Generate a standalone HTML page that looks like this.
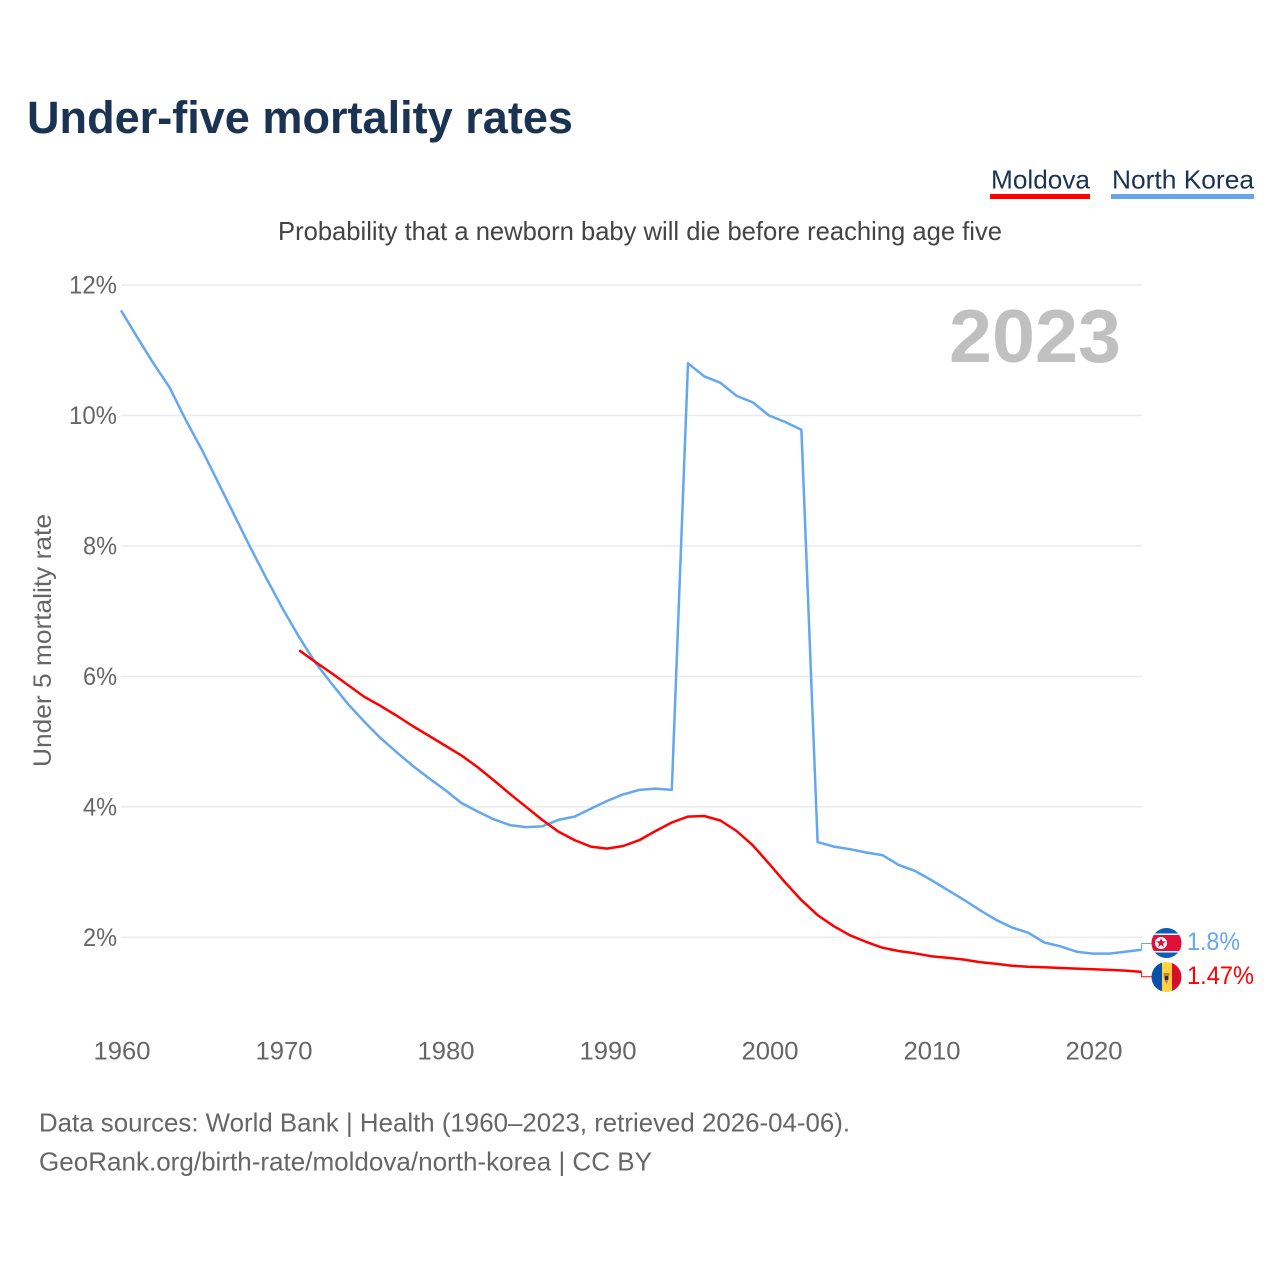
<!DOCTYPE html>
<html lang="en">
<head>
<meta charset="utf-8">
<title>Under-five mortality rates</title>
<style>
html,body{margin:0;padding:0;background:#fff}
svg{display:block}
text{font-family:"Liberation Sans",sans-serif}
</style>
</head>
<body>
<svg id="chart" xmlns="http://www.w3.org/2000/svg" width="1280" height="1280" viewBox="0 0 1280 1280">
  <rect x="0" y="0" width="1280" height="1280" fill="#fff"/>
  <text x="27" y="133" font-size="45" font-weight="700" fill="#1a3353" textLength="546" lengthAdjust="spacingAndGlyphs">Under-five mortality rates</text>

  <g>
    <text x="991" y="188.5" font-size="26" fill="#1a3353" textLength="99" lengthAdjust="spacingAndGlyphs">Moldova</text>
    <rect x="990" y="194" width="100" height="5" fill="#ff0000"/>
  </g>
  <g>
    <text x="1112" y="188.5" font-size="26" fill="#1a3353" textLength="142" lengthAdjust="spacingAndGlyphs">North Korea</text>
    <rect x="1111" y="194" width="143" height="5" fill="#63a8ee"/>
  </g>

  <text x="278" y="240" font-size="26" fill="#444" textLength="724" lengthAdjust="spacingAndGlyphs">Probability that a newborn baby will die before reaching age five</text>

  <g id="grid"></g>
  <g id="yticks"></g>
  <g id="xticks"></g>

  <text transform="translate(51,767) rotate(-90)" x="0" y="0" font-size="25" fill="#666" textLength="253" lengthAdjust="spacingAndGlyphs">Under 5 mortality rate</text>

  <text x="949" y="362" font-size="75" font-weight="700" fill="#c0c0c0" textLength="172" lengthAdjust="spacingAndGlyphs">2023</text>

  <g id="series"></g>

  <defs>
    <clipPath id="clip-kp"><circle cx="1166.5" cy="943" r="15"/></clipPath>
    <clipPath id="clip-md"><circle cx="1166.5" cy="977" r="15"/></clipPath>
  </defs>

  <g clip-path="url(#clip-kp)">
    <rect x="1151" y="928" width="31" height="30" fill="#0b5cb5"/>
    <rect x="1151" y="933.5" width="31" height="19" fill="#fff"/>
    <rect x="1151" y="935" width="31" height="16" fill="#e0103a"/>
    <circle cx="1161" cy="943" r="6" fill="#fff"/>
    <polygon points="1161,938 1162.3,941.3 1165.8,941.4 1163,943.7 1164,947.1 1161,945.1 1158,947.1 1159,943.7 1156.2,941.4 1159.7,941.3" fill="#e0103a"/>
  </g>
  <g clip-path="url(#clip-md)">
    <rect x="1151" y="962" width="11" height="30" fill="#0a50a8"/>
    <rect x="1162" y="962" width="10" height="30" fill="#ffd23f"/>
    <rect x="1172" y="962" width="10" height="30" fill="#d6102c"/>
    <polygon points="1163.5,973 1169.5,973 1169,979 1166.5,984 1164,979" fill="#c9803a"/>
    <rect x="1165" y="976" width="3" height="4" fill="#1a3353"/>
  </g>

  <text x="1187" y="950" font-size="25" fill="#63a8ee" textLength="53" lengthAdjust="spacingAndGlyphs">1.8%</text>
  <text x="1187" y="984" font-size="25" fill="#ff0000" textLength="67" lengthAdjust="spacingAndGlyphs">1.47%</text>

  <text x="39" y="1131.5" font-size="26" fill="#666" textLength="811" lengthAdjust="spacingAndGlyphs">Data sources: World Bank | Health (1960–2023, retrieved 2026-04-06).</text>
  <text x="39" y="1170.5" font-size="26" fill="#666" textLength="613" lengthAdjust="spacingAndGlyphs">GeoRank.org/birth-rate/moldova/north-korea | CC BY</text>
</svg>
<script>
const yTicks = [2, 4, 6, 8, 10, 12];
const xTicks = [1960, 1970, 1980, 1990, 2000, 2010, 2020];
const northKoreaStartYear = 1960;
const northKoreaValues = [11.61,11.2,10.8,10.43,9.93,9.47,8.97,8.47,7.97,7.49,7.03,6.6,6.21,5.89,5.58,5.31,5.06,4.84,4.63,4.44,4.26,4.06,3.93,3.81,3.72,3.69,3.7,3.8,3.85,3.97,4.09,4.19,4.26,4.28,4.26,10.8,10.6,10.5,10.3,10.2,10.0,9.9,9.78,3.46,3.39,3.35,3.3,3.26,3.11,3.02,2.88,2.73,2.58,2.42,2.27,2.15,2.07,1.92,1.86,1.78,1.75,1.75,1.78,1.81];
const moldovaStartYear = 1971;
const moldovaValues = [6.4,6.22,6.05,5.87,5.69,5.55,5.4,5.24,5.09,4.94,4.79,4.61,4.41,4.2,4.0,3.8,3.62,3.49,3.39,3.36,3.4,3.49,3.63,3.76,3.85,3.86,3.79,3.63,3.41,3.13,2.84,2.57,2.34,2.17,2.03,1.93,1.84,1.79,1.755,1.71,1.685,1.66,1.62,1.595,1.565,1.55,1.54,1.53,1.52,1.51,1.5,1.49,1.47];

const NS = 'http://www.w3.org/2000/svg';
const xScale = function (year) { return 121 + (year - 1960) * 16.2; };
const yScale = function (v) { return 937.3 - (v - 2) * 65.23; };

function make(tag, attrs, parent, content) {
  const el = document.createElementNS(NS, tag);
  Object.keys(attrs).forEach(function (k) { el.setAttribute(k, attrs[k]); });
  if (content !== undefined) el.textContent = content;
  parent.appendChild(el);
  return el;
}

const grid = document.getElementById('grid');
const yG = document.getElementById('yticks');
const xG = document.getElementById('xticks');
const series = document.getElementById('series');

yTicks.forEach(function (t) {
  const line = make('line', {x1: 121, x2: 1142, y1: yScale(t), y2: yScale(t), stroke: '#ececec', 'stroke-width': 1.6}, grid);
  
  
  const label = make('text', {x: 117, y: yScale(t) + 8.7, 'font-size': 25, fill: '#666', 'text-anchor': 'end', textLength: t >= 10 ? 48 : 34, lengthAdjust: 'spacingAndGlyphs'}, yG, t + '%');
  
  
});

xTicks.forEach(function (t) {
  const label = make('text', {x: xScale(t) + 1, y: 1059.5, 'font-size': 25, fill: '#666', 'text-anchor': 'middle', textLength: 57, lengthAdjust: 'spacingAndGlyphs'}, xG, String(t));
  
  
});

function linePoints(startYear, values) {
  return values.map(function (v, i) {
    return xScale(startYear + i).toFixed(1) + ',' + yScale(v).toFixed(1);
  }).join(' ');
}

const nkLine = make('polyline', {points: linePoints(northKoreaStartYear, northKoreaValues), fill: 'none', stroke: '#63a8ee', 'stroke-width': 2.5, 'stroke-linejoin': 'round'}, series);



const mdLine = make('polyline', {points: linePoints(moldovaStartYear, moldovaValues), fill: 'none', stroke: '#ff0000', 'stroke-width': 2.5, 'stroke-linejoin': 'round'}, series);



const nkEndX = xScale(northKoreaStartYear + northKoreaValues.length - 1);
const nkEndY = yScale(northKoreaValues[northKoreaValues.length - 1]);
const nkConn = make('polyline', {points: nkEndX + ',' + nkEndY + ' ' + nkEndX + ',943.5 1152,943.5', fill: 'none', stroke: '#63a8ee', 'stroke-width': 1}, series);



const mdEndX = xScale(moldovaStartYear + moldovaValues.length - 1);
const mdEndY = yScale(moldovaValues[moldovaValues.length - 1]);
const mdConn = make('polyline', {points: mdEndX + ',' + mdEndY + ' ' + mdEndX + ',976.8 1152,976.8', fill: 'none', stroke: '#ff0000', 'stroke-width': 1}, series);


</script>
</body>
</html>
